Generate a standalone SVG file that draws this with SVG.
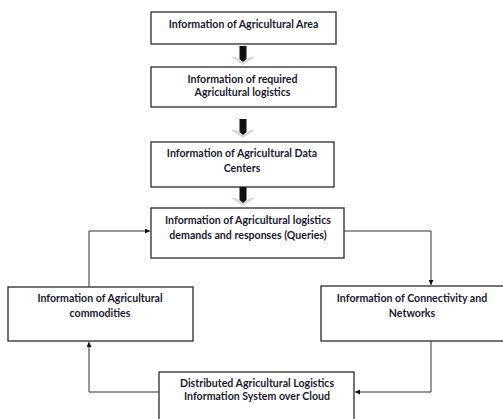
<svg xmlns="http://www.w3.org/2000/svg" width="503" height="419" viewBox="0 0 503 419">
<style>
.box{fill:#fff;stroke:#2a2a2a;stroke-width:1.3}
.t{font-family:Lato,"Liberation Sans",sans-serif;font-weight:bold;font-size:10.6px;fill:#1a1a2e;text-anchor:middle}
.c{fill:none;stroke:#333;stroke-width:1}
.shaft{fill:#111}
.head{fill:#d9d9d9}
</style>
<defs>
<marker id="ah" viewBox="0 0 6 6" refX="6" refY="3" markerWidth="5" markerHeight="5" orient="auto">
<path d="M0,0 L6,3 L0,6 z" fill="#111"/>
</marker>
<g id="blk">
<polygon class="head" points="-12,0 0,8 12,0 7,0 0,5 -7,0"/>
<polygon class="shaft" points="-3.5,-11 3.5,-11 3.5,2 0,5 -3.5,2"/>
</g>
</defs>
<rect width="503" height="419" fill="#fff"/>
<g id="n1"><rect class="box" x="151" y="12" width="185" height="32"/><text class="t" x="243.5" y="27.5">Information of Agricultural Area</text></g>
<g id="n2"><rect class="box" x="151" y="67" width="185" height="40"/><text class="t" x="242.5" y="82.5">Information of required</text><text class="t" x="242.5" y="95.5">Agricultural logistics</text></g>
<g id="n3"><rect class="box" x="151" y="142" width="183" height="45"/><text class="t" x="242" y="156.5">Information of Agricultural Data</text><text class="t" x="242" y="171.5">Centers</text></g>
<g id="n4"><rect class="box" x="151" y="208" width="193" height="50"/><text class="t" x="248" y="223.5">Information of Agricultural logistics</text><text class="t" x="248" y="238.5">demands and responses (Queries)</text></g>
<g id="n5"><rect class="box" x="8" y="287" width="185" height="54"/><text class="t" x="100" y="301.5">Information of Agricultural</text><text class="t" x="100" y="316.5">commodities</text></g>
<g id="n6"><rect class="box" x="321" y="286" width="190" height="55"/><text class="t" x="412" y="301.5">Information of Connectivity and</text><text class="t" x="412" y="316.5">Networks</text></g>
<g id="n7"><rect class="box" x="159" y="372" width="195" height="60"/><text class="t" x="257" y="386.5">Distributed Agricultural Logistics</text><text class="t" x="257" y="399.5">Information System over Cloud</text></g>
<g id="connectors">
<use href="#blk" x="243" y="57"/>
<use href="#blk" x="243" y="130"/>
<use href="#blk" x="243" y="198"/>
<polyline class="c" points="89,287 89,231 150,231" marker-end="url(#ah)"/>
<polyline class="c" points="344,231 431,231 431,285" marker-end="url(#ah)"/>
<polyline class="c" points="431,341 431,392 355,392" marker-end="url(#ah)"/>
<polyline class="c" points="159,392 89,392 89,342" marker-end="url(#ah)"/>
</g>
</svg>
